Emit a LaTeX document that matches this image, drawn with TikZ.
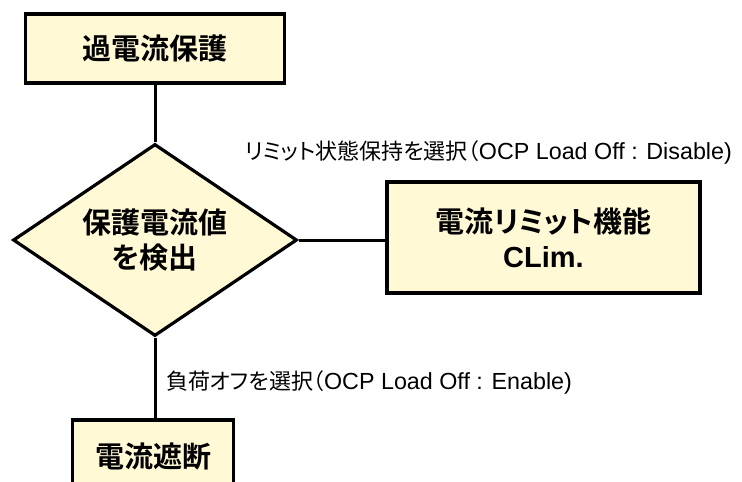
\documentclass[tikz,border=0pt]{standalone}
\usepackage{fontspec}
\setmainfont{Liberation Sans}
\newfontfamily\jp{Noto Sans CJK JP}[RawFeature=+palt]
\newfontfamily\jpb{Noto Sans CJK JP Bold}[RawFeature=+palt]
\usetikzlibrary{shapes.geometric}
\definecolor{boxfill}{RGB}{255,249,214}

\begin{document}
\begin{tikzpicture}[x=1pt,y=-1pt,
    box/.style={draw,line width=3.2pt,fill=boxfill,inner sep=0pt,align=center,
      font=\fontsize{29}{35}\jpb},
    decision/.style={diamond,draw,line width=3.2pt,fill=boxfill,inner sep=0pt,
      minimum width=284pt,minimum height=192pt,shape aspect=1.48,align=center,
      font=\fontsize{29}{35}\jpb},
    lbl/.style={anchor=west,inner sep=0pt,font=\fontsize{23.3}{26}\selectfont},
    link/.style={line width=3pt}]
  \clip (0,0) rectangle (742,482);
  \node[box,minimum width=259pt,minimum height=69pt] (ocp) at (155,48.5) {過電流保護};
  \node[decision] (detect) at (155,240) {保護電流値\\を検出};
  \node[box,minimum width=313pt,minimum height=111pt] (clim) at (543.5,237.5)
    {電流リミット機能\\{\normalfont\bfseries CLim.}};
  \node[box,minimum width=161pt,minimum height=74pt] (cut) at (153,457) {電流遮断};
  % connectors
  \draw[link] (ocp) -- (detect);
  \draw[link] (detect.east) -- (detect.east -| clim.west);
  \draw[link] (detect.south) -- (detect.south |- cut.north);
  \node[lbl] (keep) at (245,152) {{\jp\fontsize{22}{26}\selectfont リミット状態保持を選択（}OCP Load Off : Disable)};
  \node[lbl] (off) at (166,382) {{\jp\fontsize{22}{26}\selectfont 負荷オフを選択（}OCP Load Off : Enable)};
\end{tikzpicture}
\end{document}
